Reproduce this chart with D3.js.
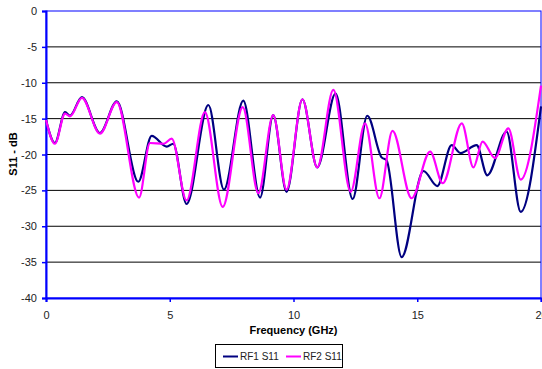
<!DOCTYPE html>
<html>
<head>
<meta charset="utf-8">
<script src="https://cdn.jsdelivr.net/npm/d3@7"></script>
<style>
body { margin: 0; background: #fff; }
svg { display: block; font-family: "Liberation Sans", Arial, sans-serif; }
</style>
</head>
<body>
<script>
// values: [frequency GHz, S11 dB]
var rf1 = [[0,-15.2],[0.36,-18.4],[0.77,-14.1],[0.97,-14.6],[1.45,-12.0],[2.18,-17.0],[2.86,-12.6],
  [3.73,-23.8],[4.27,-17.4],[4.88,-18.9],[5.14,-18.5],[5.68,-26.9],[6.56,-13.1],[7.19,-24.9],
  [7.97,-12.5],[8.65,-26.0],[9.18,-14.5],[9.72,-25.2],[10.36,-12.3],[10.96,-21.8],[11.7,-11.5],
  [12.39,-26.2],[12.98,-14.6],[13.56,-20.4],[13.76,-20.8],[14.37,-34.3],[15.25,-22.3],[15.81,-24.4],
  [16.39,-18.7],[16.75,-19.8],[17.4,-18.7],[17.83,-22.9],[18.61,-16.8],[19.18,-28.0],[20,-13.3]];
var rf2 = [[0,-15.2],[0.36,-18.5],[0.77,-14.3],[0.97,-14.7],[1.45,-12.1],[2.18,-17.1],[2.86,-12.7],
  [3.76,-26.0],[4.2,-18.4],[4.75,-18.5],[5.08,-17.8],[5.68,-26.4],[6.42,-14.1],[7.14,-27.3],
  [7.95,-13.4],[8.58,-25.4],[9.18,-14.5],[9.72,-24.9],[10.36,-12.3],[10.96,-21.8],[11.61,-11.0],
  [12.31,-25.2],[12.89,-15.65],[13.47,-26.1],[14.0,-16.7],[14.77,-26.1],[15.52,-19.6],[16.03,-24.0],
  [16.8,-15.65],[17.27,-21.8],[17.64,-18.2],[18.14,-20.5],[18.68,-16.35],[19.18,-23.5],[20,-10.4]];
var xTicks = [0, 5, 10, 15, 20];
var yTicks = [0, -5, -10, -15, -20, -25, -30, -35, -40];
var seriesNames = ["RF1 S11", "RF2 S11"];
var seriesColors = ["#000080", "#ff00ff"];

var width = 542, height = 369;
var plotLeft = 46, plotRight = 541, plotTop = 11, plotBottom = 298;

var svg = d3.select("body").append("svg")
  .attr("width", width)
  .attr("height", height);

var x = d3.scaleLinear().domain([0, 20]).range([plotLeft, plotRight]);
var y = d3.scaleLinear().domain([-40, 0]).range([plotBottom, plotTop]);

// gridlines
svg.append("g")
  .selectAll("line")
  .data(yTicks.filter(function(d) { return d != 0 && d != -40; }))
  .enter()
  .append("line")
  .attr("x1", plotLeft).attr("x2", plotRight)
  .attr("y1", function(d) { return y(d); })
  .attr("y2", function(d) { return y(d); })
  .attr("stroke", "#000")
  .attr("stroke-width", 1);

// border
svg.append("rect")
  .attr("x", plotLeft).attr("y", plotTop)
  .attr("width", plotRight - plotLeft).attr("height", plotBottom - plotTop)
  .attr("fill", "none")
  .attr("stroke", "#0000ff")
  .attr("stroke-width", 1);

// plain hyphen minus like the original
var fmt = function(d) { return String(d); };

var yAxis = svg.append("g")
  .attr("transform", "translate(" + plotLeft + ",0)")
  .call(d3.axisLeft(y).tickValues(yTicks).tickSize(4).tickPadding(5).tickFormat(fmt));
var xAxis = svg.append("g")
  .attr("transform", "translate(0," + plotBottom + ")")
  .call(d3.axisBottom(x).tickValues(xTicks).tickSize(4).tickPadding(9).tickFormat(fmt));

[yAxis, xAxis].forEach(function(a) {
  a.select(".domain").attr("stroke", "#0000ff").attr("stroke-width", 2);
  a.selectAll(".tick line").attr("stroke", "#0000ff").attr("stroke-width", 1.5);
  a.selectAll("text").attr("fill", "#222").attr("font-size", 11)
    .attr("font-family", "'Liberation Sans', Arial, sans-serif");
});

var line = d3.line()
  .x(function(d) { return x(d[0]); })
  .y(function(d) { return y(d[1]); })
  .curve(d3.curveMonotoneX);

[rf1, rf2].forEach(function(s, i) {
  svg.append("path")
    .datum(s)
    .attr("d", line)
    .attr("fill", "none")
    .attr("stroke", seriesColors[i])
    .attr("stroke-width", 2.2);
});

svg.append("text")
  .attr("x", (plotLeft + plotRight) / 2).attr("y", 334)
  .attr("text-anchor", "middle")
  .attr("font-size", 11).attr("font-weight", "bold")
  .text("Frequency (GHz)");

svg.append("text")
  .attr("transform", "translate(17,154) rotate(-90)")
  .attr("text-anchor", "middle")
  .attr("font-size", 11).attr("font-weight", "bold")
  .text("S11 - dB");

// legend
var legend = svg.append("g").attr("class", "legend");
legend.append("rect")
  .attr("x", 215.5).attr("y", 344.5)
  .attr("width", 127).attr("height", 23)
  .attr("fill", "#fff").attr("stroke", "#000").attr("stroke-width", 1);
legend.selectAll("line")
  .data(seriesNames)
  .enter()
  .append("line")
  .attr("x1", function(d, i) { return 223 + i * 63; })
  .attr("x2", function(d, i) { return 238 + i * 63; })
  .attr("y1", 356.5).attr("y2", 356.5)
  .attr("stroke", function(d, i) { return seriesColors[i]; })
  .attr("stroke-width", 2);
legend.selectAll("text")
  .data(seriesNames)
  .enter()
  .append("text")
  .attr("x", function(d, i) { return 240 + i * 63; })
  .attr("y", 360)
  .attr("font-size", 10)
  .attr("fill", "#222")
  .text(function(d) { return d; });
</script>
</body>
</html>
